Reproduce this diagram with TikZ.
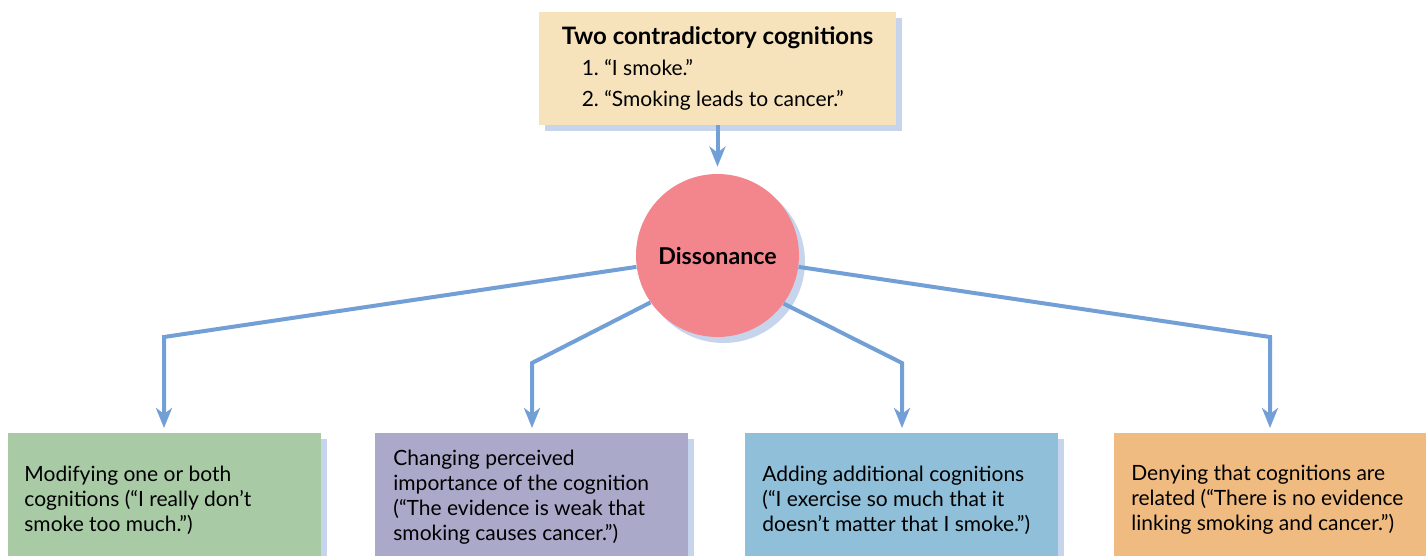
\documentclass[tikz,border=0pt]{standalone}
\usepackage{fontspec}
\setmainfont{Lato}
\usetikzlibrary{arrows.meta,shadows}
\definecolor{topc}{HTML}{F6E3BB}
\definecolor{circc}{HTML}{F2868C}
\definecolor{greenc}{HTML}{A8CBA6}
\definecolor{purplec}{HTML}{AAA9C9}
\definecolor{bluec}{HTML}{8FBFD9}
\definecolor{orangec}{HTML}{EFBB80}
\definecolor{shadowc}{HTML}{C7D5EC}
\definecolor{linec}{HTML}{729FD6}
\tikzset{
  shad/.style={general shadow={fill=shadowc, shadow xshift=3pt, shadow yshift=-3pt}},
  bbox/.style={shad, draw=none, minimum width=156.5pt, minimum height=67pt, anchor=north west, inner sep=0pt},
  btext/.style={anchor=west, align=left, inner sep=0pt, font=\fontsize{10.5}{12.5}\selectfont},
  conn/.style={draw=linec, line width=2pt, -{Stealth[length=10pt,width=8pt,inset=3pt]}, shorten >=2.5pt}
}
\begin{document}
\begin{tikzpicture}[x=0.5pt,y=-0.5pt]
\useasboundingbox (0,0) rectangle (1426,556);
\clip (0,0) rectangle (1426,556);
% top box
\node[shad, fill=topc, minimum width=178.5pt, minimum height=56.5pt, inner sep=0pt, align=left,
      font=\fontsize{10.5}{15.5}\selectfont] (top) at (717.5,68.5)
  {{\fontsize{12}{15.5}\selectfont\textbf{Two contradictory cognitions}}\\
   \hspace*{10pt}1.~``I smoke.''\\
   \hspace*{10pt}2.~``Smoking leads to cancer.''};
% circle
\node[shad, circle, fill=circc, minimum size=81.5pt, inner sep=0pt,
      font=\bfseries\fontsize{11.6}{13}\selectfont] (diss) at (717.5,255.5) {Dissonance};
% bottom boxes
\node[bbox, fill=greenc] (g) at (8,433) {};
\node[bbox, fill=purplec] (p) at (375,433) {};
\node[bbox, fill=bluec] (b) at (745,433) {};
\node[bbox, fill=orangec] (o) at (1114,433) {};
\node[btext] (gt) at (24,500) {Modifying one or both\\cognitions (``I really don’t\\smoke too much.'')};
\node[btext] (pt) at (393,497) {Changing perceived\\importance of the cognition\\(``The evidence is weak that\\smoking causes cancer.'')};
\node[btext] (bt) at (762,500) {Adding additional cognitions\\(``I exercise so much that it\\doesn’t matter that I smoke.'')};
\node[btext] (ot) at (1131,500) {Denying that cognitions are\\related (``There is no evidence\\linking smoking and cancer.'')};
% connectors
\draw[conn, shorten >=3.5pt] (top.south) -- (diss.north);
\coordinate (cg) at (164,337);
\coordinate (cp) at (532,363);
\coordinate (cb) at (902,363);
\coordinate (co) at (1270,337);
\draw[conn] (diss.188) -- (cg) -- (cg |- g.north);
\draw[conn] (diss.215) -- (cp) -- (cp |- p.north);
\draw[conn] (diss.324) -- (cb) -- (cb |- b.north);
\draw[conn] (diss.352) -- (co) -- (co |- o.north);
\end{tikzpicture}
\end{document}
